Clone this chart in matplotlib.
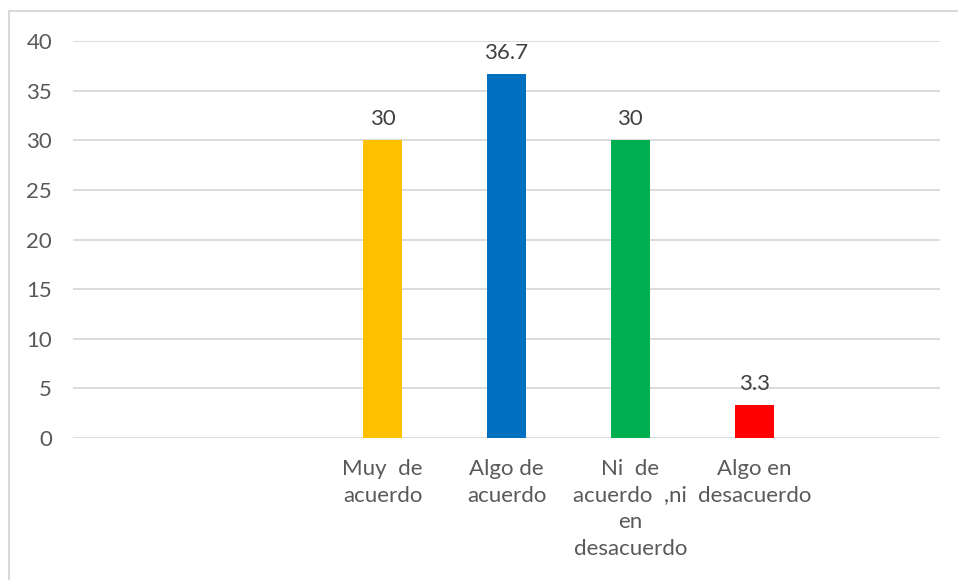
import matplotlib
matplotlib.use("Agg")
import matplotlib.pyplot as plt
from matplotlib.lines import Line2D

categorias = ["", "", "Muy  de\nacuerdo", "Algo de\nacuerdo",
              "Ni  de\nacuerdo  ,ni\nen\ndesacuerdo", "Algo en\ndesacuerdo", ""]
valores = [None, None, 30, 36.7, 30, 3.3, None]
etiquetas = ["", "", "30", "36.7", "30", "3.3", ""]
colores = ["white", "white", "#FFC000", "#0070C0", "#00B050", "#FF0000", "white"]
yticks = [0, 5, 10, 15, 20, 25, 30, 35, 40]

plt.rcParams['font.family'] = ['Lato', 'DejaVu Sans']

fig = plt.figure(figsize=(9.58, 5.8), dpi=100)
ax = fig.add_axes([73/958, 142/580, 867/958, 397/580])

x = list(range(len(categorias)))
for i, v in enumerate(valores):
    if v is None:
        continue
    ax.bar(i, v, width=0.315, color=colores[i], zorder=3)
    ax.annotate(etiquetas[i], (i, v), xytext=(0, 8), textcoords="offset points",
                ha="center", va="bottom", fontsize=16, color="#404040")

ax.set_xlim(-0.5, len(categorias) - 0.5)
ax.set_ylim(0, 40)
ax.set_yticks(yticks)
ax.set_xticks(x)
ax.set_xticklabels(categorias, fontsize=16, color="#595959", linespacing=1.42)
ax.tick_params(axis="y", length=0, pad=15, labelsize=16, labelcolor="#595959")
ax.tick_params(axis="x", length=0, pad=15)
ax.grid(axis="y", color="#D9D9D9", linewidth=1.3, zorder=0)
for s in ax.spines.values():
    s.set_visible(False)

# marco del grafico
fig.add_artist(Line2D([9/958, 9/958], [0, 1 - 11/580], color="#D9D9D9", linewidth=1.5))
fig.add_artist(Line2D([9/958, 1], [1 - 11/580, 1 - 11/580], color="#D9D9D9", linewidth=1.5))

fig.savefig("out.png", dpi=100)
